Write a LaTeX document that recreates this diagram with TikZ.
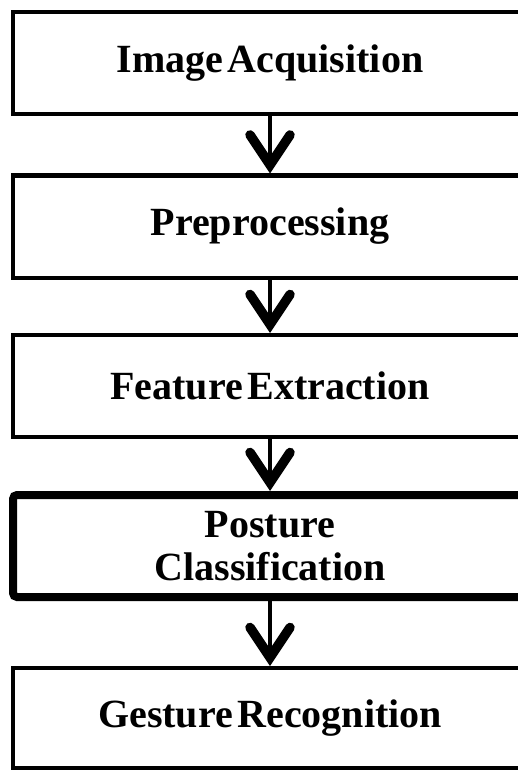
\documentclass[tikz,border=0pt]{standalone}
\usepackage{fontspec}
\setmainfont{Liberation Serif}[WordSpace=0.45]
\usetikzlibrary{arrows.meta}
\tikzset{
  stagebox/.style={draw=black, line width=4pt, fill=white, minimum width=514pt,
    minimum height=102pt, inner sep=0pt, align=center,
    font=\fontsize{40}{43}\selectfont\bfseries},
  keybox/.style={stagebox, line width=8pt, rounded corners=4pt},
  flowarrow/.style={line width=4.5pt,
    -{Straight Barb[length=30pt, width=40pt, line width=9.5pt, line cap=round, line join=miter]}}
}
\begin{document}
\begin{tikzpicture}[x=1pt, y=-1pt]
  \useasboundingbox (0,0) rectangle (517,770);
  \node[stagebox] (acq)  at (270,63)  {Image Acquisition};
  \node[stagebox] (pre)  at (270,226.5) {Preprocessing};
  \node[stagebox] (feat) at (270,386) {Feature Extraction};
  \node[keybox]   (post) at (270,546) {Posture\\Classification};
  \node[stagebox, minimum height=100pt] (gest) at (270,718) {Gesture Recognition};
  \draw[flowarrow] (acq.south)  -- (pre.north);
  \draw[flowarrow] (pre.south)  -- (feat.north);
  \draw[flowarrow] (feat.south) -- (post.north);
  \draw[flowarrow] (post.south) -- (gest.north);
\end{tikzpicture}
\end{document}
